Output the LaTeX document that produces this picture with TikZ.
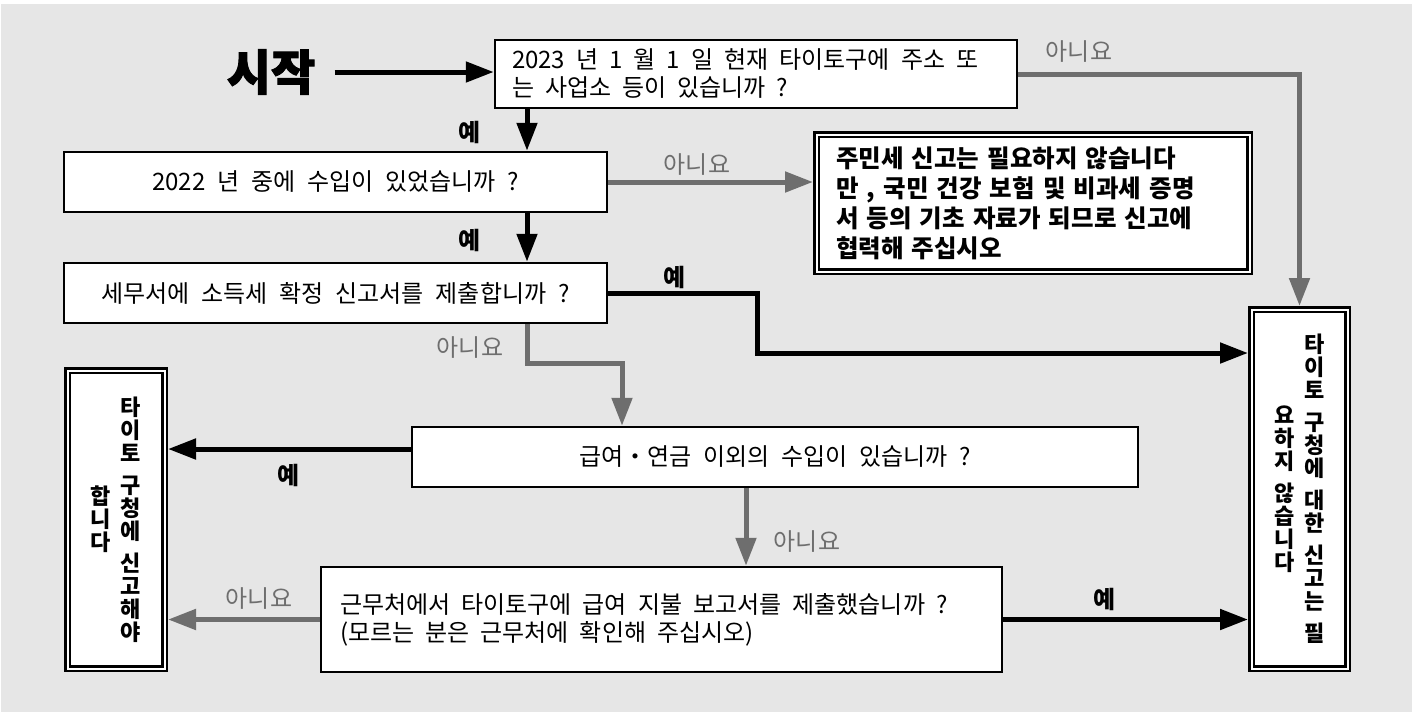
\documentclass[tikz,border=0pt]{standalone}
\usepackage{fontspec}
\setmainfont[WordSpace=2.2]{Noto Sans CJK KR}
\newfontfamily\heavyfont[BoldFeatures={FakeBold=2}]{Noto Sans CJK KR}
\usetikzlibrary{arrows.meta}
\definecolor{bggray}{RGB}{230,230,230}
\definecolor{nogray}{RGB}{110,110,110}
\newcommand\widespaces{\spaceskip=0.46em\relax}
\tikzset{
  qbox/.style={draw, line width=2.5pt, fill=white, inner sep=0pt,
    minimum height=60pt, font=\fontsize{24}{28}\selectfont},
  endbox/.style={draw, double, double distance=2pt, line width=2.5pt, fill=white,
    inner sep=0pt, outer sep=3.5pt},
  yesline/.style={line width=5pt, -{Triangle[length=28pt,width=20pt]}},
  noline/.style={yesline, color=nogray},
  yeslab/.style={font=\bfseries\fontsize{24}{28}\selectfont},
  nolab/.style={text=nogray, font=\fontsize{24}{28}\selectfont}
}
\newcommand\vcolumn[1]{\begin{minipage}[c]{24pt}\centering #1\end{minipage}}
\begin{document}
\begin{tikzpicture}[x=1pt,y=-1pt]
  \useasboundingbox (0,0) rectangle (1413,713);
  \fill[bggray] (1,4) rectangle (1412,712);
  % questions
  \node[font=\heavyfont\bfseries\fontsize{48}{52}\selectfont] (start) at (271,72) {시작};
  \node[qbox, minimum width=522pt, minimum height=68pt, text width=488pt, align=left] (q1) at (756,74)
    {\widespaces 2023 년 1 월 1 일 현재 타이토구에 주소 또\\는 사업소 등이 있습니까 ?};
  \node[qbox, minimum width=543pt] (q2) at (335.5,182) {2022 년 중에 수입이 있었습니까 ?};
  \node[qbox, minimum width=543pt] (q3) at (335.5,293) {세무서에 소득세 확정 신고서를 제출합니까 ?};
  \node[qbox, minimum width=726pt] (q4) at (775,457) {급여・연금 이외의 수입이 있습니까 ?};
  \node[qbox, minimum width=681pt, minimum height=105pt, text width=643pt, align=left] (q5) at (661.5,619.5)
    {\widespaces 근무처에서 타이토구에 급여 지불 보고서를 제출했습니까 ?\\(모르는 분은 근무처에 확인해 주십시오)};
  % results
  \node[endbox, minimum width=433pt, minimum height=137pt, text width=394pt, align=left,
    font=\bfseries\fontsize{24.5}{30}\selectfont] (note) at (1033,203)
    {주민세 신고는 필요하지 않습니다\\만 , 국민 건강 보험 및 비과세 증명\\서 등의 기초 자료가 되므로 신고에\\협력해 주십시오};
  \node[endbox, minimum width=96pt, minimum height=359pt,
    font=\bfseries\fontsize{22}{23}\selectfont] (endR) at (1299.5,489)
    {\vcolumn{요\\하\\지\\[9pt]않\\습\\니\\다}\hspace{6pt}%
     \vcolumn{타\\이\\토\\[9pt]구\\청\\에\\[9pt]대\\한\\[9pt]신\\고\\는\\[9pt]필}};
  \node[endbox, minimum width=97pt, minimum height=298pt,
    font=\bfseries\fontsize{22}{23}\selectfont] (endL) at (116,519.5)
    {\vcolumn{합\\니\\다}\hspace{6pt}%
     \vcolumn{타\\이\\토\\[9pt]구\\청\\에\\[9pt]신\\고\\해\\야}};
  % bends of the connectors
  \coordinate (colA) at (527,0);
  \coordinate (bendB) at (757,353);
  \coordinate (bendC) at (622,363);
  \coordinate (rowD) at (0,449);
  \coordinate (colE) at (746,0);
  % connectors
  \draw[yesline] ([xshift=16pt]start.east) -- (start.east -| q1.west);
  \draw[yesline] (q1.south -| colA) -- (q2.north -| colA);
  \draw[yesline] (q2.south -| colA) -- (q3.north -| colA);
  \draw[noline] (q1.east) -| (endR.north);
  \draw[noline] (q2.east) -- (q2.east -| note.west);
  \draw[yesline] (q3.east) -| (bendB) -- (bendB -| endR.west);
  \draw[noline] (q3.south -| colA) |- (bendC) -- (bendC |- q4.north);
  \draw[yesline] (q4.west |- rowD) -- (endL.east |- rowD);
  \draw[noline] (q4.south -| colE) -- (q5.north -| colE);
  \draw[noline] (q5.west) -- (q5.west -| endL.east);
  \draw[yesline] (q5.east) -- (q5.east -| endR.west);
  % labels
  \node[yeslab] at (470,132) {예};
  \node[yeslab] at (470,240) {예};
  \node[yeslab] at (675,277) {예};
  \node[yeslab] at (289,475) {예};
  \node[yeslab] at (1105,599) {예};
  \node[nolab] at (1079,52) {아니요};
  \node[nolab] at (697,165) {아니요};
  \node[nolab] at (470,348) {아니요};
  \node[nolab] at (807,542) {아니요};
  \node[nolab] at (259,598) {아니요};
\end{tikzpicture}
\end{document}
